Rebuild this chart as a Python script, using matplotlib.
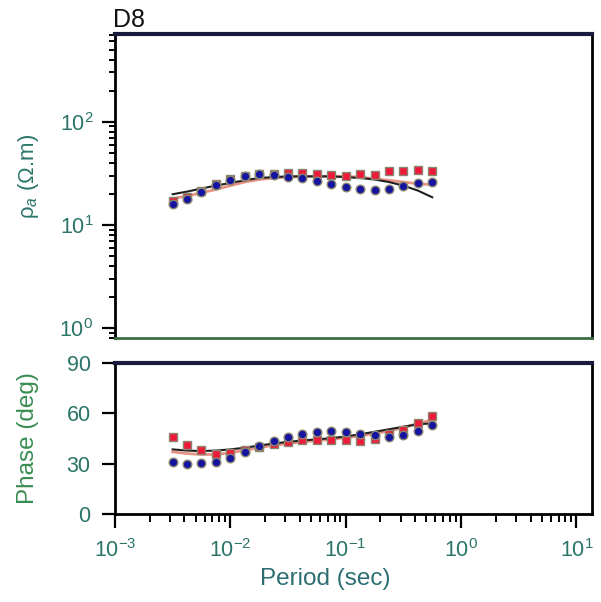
import matplotlib
matplotlib.use("Agg")
import matplotlib.pyplot as plt
from matplotlib.ticker import LogLocator, NullFormatter, FixedLocator

plt.rcParams['font.family'] = ['Liberation Sans', 'DejaVu Sans']
plt.rcParams['mathtext.fontset'] = 'custom'
plt.rcParams['mathtext.rm'] = 'Liberation Sans'
plt.rcParams['mathtext.it'] = 'Liberation Sans:italic'

# periods (s), 8 per decade
period = [0.00316, 0.00422, 0.00562, 0.0075, 0.01, 0.0133, 0.0178, 0.0237,
          0.0316, 0.0422, 0.0562, 0.075, 0.1, 0.133, 0.178, 0.237, 0.316,
          0.422, 0.562]

# observed apparent resistivity (ohm.m)
rho_blue = [15.9, 17.8, 21.0, 24.5, 27.2, 29.9, 31.0, 30.3, 28.8, 28.4, 26.7,
            24.8, 23.4, 22.2, 21.9, 22.5, 23.9, 25.4, 25.8]
rho_red = [17.0, 18.5, 21.5, 25.0, 28.0, 30.0, 31.0, 31.0, 31.5, 31.5, 31.0,
           30.5, 29.9, 31.0, 30.5, 32.9, 33.4, 34.0, 33.4]
# model responses
rho_black = [19.8, 21.0, 22.5, 24.0, 25.5, 27.0, 28.5, 29.0, 29.5, 29.5, 29.5,
             29.5, 29.0, 28.5, 27.5, 26.0, 24.0, 21.5, 18.5]
rho_salmon = [18.0, 19.0, 20.5, 22.0, 24.0, 26.0, 27.5, 28.5, 29.0, 29.5, 29.5,
              29.5, 29.5, 29.0, 28.0, 27.0, 26.0, 25.0, 24.5]

# phase (deg)
ph_blue = [30.7, 29.7, 30.1, 31.1, 33.1, 37.0, 40.4, 43.6, 45.6, 47.5, 48.9,
           49.5, 48.9, 47.9, 46.9, 45.9, 46.9, 49.5, 52.9]
ph_red = [45.9, 41.4, 38.4, 35.6, 36.6, 38.0, 40.0, 42.0, 43.0, 44.4, 44.4,
          44.4, 44.0, 43.6, 45.0, 47.9, 50.3, 54.2, 58.4]
ph_black = [38.5, 37.8, 37.5, 37.8, 38.5, 39.5, 40.8, 42.0, 43.0, 43.8, 44.5,
            45.2, 46.2, 47.5, 49.0, 50.5, 52.0, 53.5, 54.0]
ph_salmon = [37.0, 36.0, 35.5, 35.5, 36.5, 38.0, 39.5, 41.0, 42.0, 43.0, 43.8,
             44.5, 45.5, 46.5, 48.0, 49.5, 51.5, 54.0, 56.0]

teal = '#2a7468'
green = '#3a8c52'
blue_c = '#1414a0'
red_c = '#ee1a3a'
edge = '#8a8670'

fig = plt.figure(figsize=(6.01, 6.02), dpi=100)
L, R = 115 / 601, 592 / 601
ax1 = fig.add_axes([L, 1 - 338 / 602, R - L, (338 - 34) / 602])
ax2 = fig.add_axes([L, 1 - 514 / 602, R - L, (514 - 363) / 602])

xlim = (1e-3, 10 ** 1.135)

# resistivity panel
ax1.plot(period, rho_salmon, color='#e89484', lw=2.0, zorder=2)
ax1.plot(period, rho_black, color='#202020', lw=1.5, zorder=2)
ax1.plot(period, rho_red, 's', color=red_c, mec=edge, mew=1.0, ms=6.2, zorder=3)
ax1.plot(period, rho_blue, 'o', color=blue_c, mec=edge, mew=1.0, ms=6.2, zorder=4)
ax1.set_xscale('log')
ax1.set_yscale('log')
ax1.set_xlim(*xlim)
ax1.set_ylim(10 ** -0.097, 10 ** 2.85)
ax1.set_xticks([])
ax1.xaxis.set_minor_locator(FixedLocator([]))
ax1.yaxis.set_major_locator(FixedLocator([1, 10, 100]))
ax1.yaxis.set_minor_locator(LogLocator(base=10, subs=range(2, 10)))
ax1.yaxis.set_minor_formatter(NullFormatter())
ax1.set_yticklabels(['10$^{0}$', '10$^{1}$', '10$^{2}$'])
ax1.tick_params(axis='y', which='major', direction='out', length=9.5, width=1.6,
                labelsize=15.5, labelcolor=teal, pad=6)
ax1.tick_params(axis='y', which='minor', direction='out', length=4.5, width=1.4)
ax1.set_ylabel('ρ$_a$ (Ω.m)', fontsize=16, color=teal)
ax1.yaxis.set_label_coords(-0.155, 0.53)
for s in ax1.spines.values():
    s.set_linewidth(2)
ax1.spines['top'].set_color('#1a1a3c')
ax1.spines['top'].set_linewidth(3)
ax1.spines['bottom'].set_color('#3c6c44')
ax1.text(-0.004, 1.008, 'D8', transform=ax1.transAxes, fontsize=18,
         ha='left', va='bottom', color='#111111')

# phase panel
ax2.plot(period, ph_salmon, color='#e89484', lw=2.0, zorder=2)
ax2.plot(period, ph_black, color='#202020', lw=1.5, zorder=2)
ax2.plot(period, ph_red, 's', color=red_c, mec=edge, mew=1.0, ms=6.2, zorder=3)
ax2.plot(period, ph_blue, 'o', color=blue_c, mec=edge, mew=1.0, ms=6.2, zorder=4)
ax2.set_xscale('log')
ax2.set_xlim(*xlim)
ax2.set_ylim(0, 90)
ax2.set_yticks([0, 30, 60, 90])
ax2.xaxis.set_major_locator(FixedLocator([1e-3, 1e-2, 1e-1, 1, 10]))
ax2.set_xticklabels(['10$^{-3}$', '10$^{-2}$', '10$^{-1}$', '10$^{0}$', '10$^{1}$'])
ax2.xaxis.set_minor_locator(LogLocator(base=10, subs=range(2, 10)))
ax2.xaxis.set_minor_formatter(NullFormatter())
ax2.tick_params(axis='y', which='major', direction='out', length=9.5, width=1.6,
                labelsize=15.5, labelcolor=teal, pad=8)
ax2.tick_params(axis='x', which='major', direction='out', length=10, width=1.6,
                labelsize=15.5, labelcolor=teal, pad=8)
ax2.tick_params(axis='x', which='minor', direction='out', length=5.5, width=1.4)
ax2.set_ylabel('Phase (deg)', fontsize=17.5, color=green)
ax2.yaxis.set_label_coords(-0.16, 0.5)
ax2.set_xlabel('Period (sec)', fontsize=17.5, color='#2c6e72')
ax2.xaxis.set_label_coords(0.44, -0.36)
for s in ax2.spines.values():
    s.set_linewidth(2)
ax2.spines['top'].set_color('#1a1a3c')
ax2.spines['top'].set_linewidth(3)

fig.savefig('out.png', dpi=100)
